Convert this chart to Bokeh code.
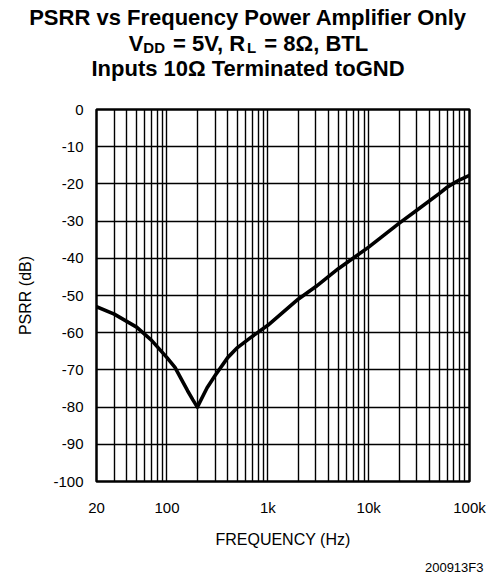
from bokeh.plotting import figure
from bokeh.models import Range1d, FixedTicker, ColumnDataSource
from bokeh.core.properties import value
from bokeh.embed import file_html
from bokeh.resources import INLINE

# ---- data ----
freq_hz = [20, 30, 50, 70, 100, 120, 140, 160, 180, 200, 250, 300, 400, 500,
           700, 1000, 2000, 3000, 5000, 10000, 20000, 30000, 50000, 60000,
           70000, 80000, 100000]
psrr_db = [-53, -55, -58.5, -62, -66.7, -69.3, -72.7, -75.6, -78, -80, -74.8,
           -71.5, -66.7, -64, -61, -58, -51, -47.6, -42.8, -37, -30.6, -27.1,
           -22.6, -20.9, -19.8, -18.9, -17.7]

x_tick_vals = [20, 100, 1000, 10000, 100000]
x_tick_text = ["20", "100", "1k", "10k", "100k"]
y_tick_vals = [0, -10, -20, -30, -40, -50, -60, -70, -80, -90, -100]
y_tick_text = ["0", "-10", "-20", "-30", "-40", "-50", "-60", "-70", "-80", "-90", "-100"]

NB = "\u00a0"
title_line1 = "PSRR vs Frequency Power Amplifier Only"
title_line3 = "Inputs 10\u03a9 Terminated toGND"
# line 2 pieces: (text, is_subscript)
title_line2 = [("V", False), ("DD", True), (NB + "=" + NB + "5V," + NB + "R", False),
               ("L", True), (NB + "=" + NB + "8\u03a9," + NB + "BTL", False)]
figure_id = "200913F3"

FONT = "Liberation Sans"
WID = 495


def blank(height):
    f = figure(width=WID, height=height, x_range=Range1d(0, WID),
               y_range=Range1d(height, 0), output_backend="svg",
               toolbar_location=None, min_border=0,
               x_axis_location=None, y_axis_location=None)
    f.title.visible = False
    f.grid.visible = False
    f.outline_line_color = None
    f.background_fill_color = "white"
    f.border_fill_color = "white"
    return f


# ---- title panel ----
TS = 22
SUB = 15
cx = 247.5
tp = blank(101)
tp.text(x=[cx, cx], y=[17, 68], text=[title_line1, title_line3],
        text_font=value(FONT), text_font_size=f"{TS}px", text_font_style="bold",
        text_align="center", text_baseline="alphabetic", text_color="black")
adv = {"V": .667, "D": .722, NB: .278, "=": .584, "5": .556, ",": .278,
       "R": .722, "L": .611, "8": .556, "\u03a9": .764, "B": .722, "T": .611}
widths = [sum(adv.get(c, .6) for c in t) * (SUB if s else TS) + (2 if s else 0)
          for t, s in title_line2]
x0 = cx - sum(widths) / 2
for (t, s), w in zip(title_line2, widths):
    tp.text(x=[x0], y=[43 + (4 if s else 0)], text=[t],
            text_font=value(FONT), text_font_size=f"{SUB if s else TS}px",
            text_font_style="bold", text_align="left",
            text_baseline="alphabetic", text_color="black")
    x0 += w

# ---- main chart ----
p = figure(width=WID, height=455, x_axis_type="log",
           x_range=Range1d(20, 100000), y_range=Range1d(-100, 0),
           output_backend="svg", toolbar_location=None,
           min_border_left=96, min_border_right=26,
           min_border_top=8, min_border_bottom=75)
p.background_fill_color = "white"
p.border_fill_color = "white"
p.outline_line_color = "black"
p.outline_line_width = 2.5

grid_x = []
for dec in [10, 100, 1000, 10000]:
    for m in range(1, 10):
        v = m * dec
        if v >= 20:
            grid_x.append(v)
grid_x.append(100000)
p.xgrid.ticker = FixedTicker(ticks=grid_x)
p.ygrid.ticker = FixedTicker(ticks=y_tick_vals)
for g in (p.xgrid, p.ygrid):
    g.grid_line_color = "black"
    g.grid_line_width = 1.4
    g.grid_line_alpha = 1.0

xa = p.xaxis[0]
xa.ticker = FixedTicker(ticks=x_tick_vals)
xa.major_label_overrides = {v: t for v, t in zip(x_tick_vals, x_tick_text)}
ya = p.yaxis[0]
ya.ticker = FixedTicker(ticks=y_tick_vals)
ya.major_label_overrides = {v: t for v, t in zip(y_tick_vals, y_tick_text)}
for ax in (xa, ya):
    ax.axis_line_color = None
    ax.major_tick_line_color = None
    ax.minor_tick_line_color = None
    ax.major_label_text_font = FONT
    ax.major_label_text_font_size = "15px"
    ax.major_label_text_color = "black"
    ax.axis_label_text_font = FONT
    ax.axis_label_text_font_size = "16px"
    ax.axis_label_text_font_style = "normal"
    ax.axis_label_text_color = "black"
xa.axis_label = "FREQUENCY (Hz)"
ya.axis_label = "PSRR (dB)"
xa.major_label_standoff = 11
xa.axis_label_standoff = 12
ya.major_label_standoff = 7
ya.axis_label_standoff = 16

src = ColumnDataSource(dict(f=freq_hz, v=psrr_db))
p.line("f", "v", source=src, line_color="black", line_width=3.6,
       line_join="round", line_cap="round")

# ---- footer ----
fp = blank(21)
fp.text(x=[483], y=[11], text=[figure_id], text_font=value(FONT),
        text_font_size="13px", text_align="right", text_baseline="alphabetic",
        text_color="black")

open("out.html", "w").write(file_html([tp, p, fp], INLINE))
